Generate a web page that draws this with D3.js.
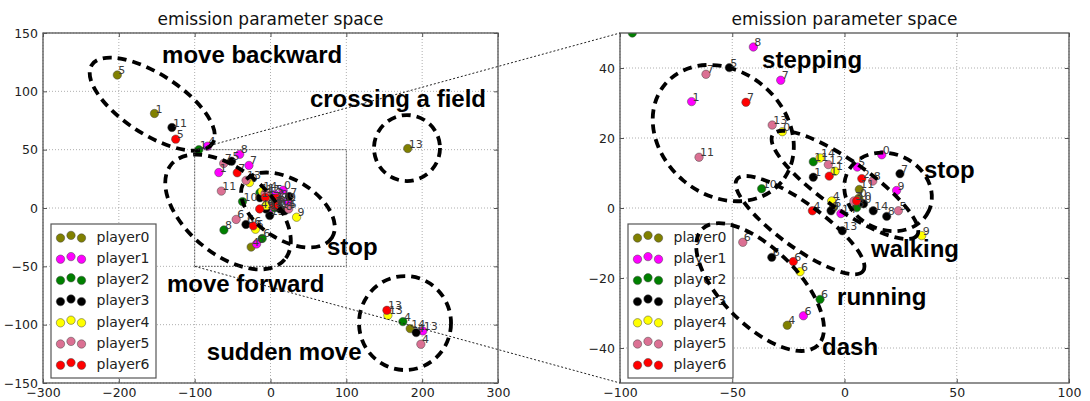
<!DOCTYPE html>
<html>
<head>
<meta charset="utf-8">
<script src="https://cdn.jsdelivr.net/npm/d3@7/dist/d3.min.js"></script>
<style>
  body { margin: 0; background: #fff; }
  svg { display: block; font-family: "DejaVu Sans", sans-serif; }
</style>
</head>
<body>
<svg id="chart" width="1090" height="401"></svg>
<script>
// emission points per player: [x, y, state]
const playerNames = ['player0', 'player1', 'player2', 'player3', 'player4', 'player5', 'player6'];
const playerColors = ['#808000', '#ff00ff', '#008000', '#000000', '#ffff00', '#db7093', '#ff0000'];

const player0 = [[-202, 114, 5], [-153, 81, 1], [181, 51, 13], [184.2, -103.4, 14], [-25.5, -33.5, 4],
  [6.6, 5.3, 11], [-5, 0.1, 6], [6.4, 2.8, 0]];
const player1 = [[-83, 53, 4], [-40.6, 46, 8], [-28.4, 36.5, 7], [-68.1, 30.4, 1], [5.7, 11.7, 5],
  [16.6, 15.2, 0], [23.2, 5.0, 9], [-1.6, -1.6, 14], [-18.3, -30.8, 6], [200.9, -105.4, 13]];
const player2 = [[-94.5, 50, 1], [-13.9, 13.2, 11], [-36.9, 5.5, 10], [-61.4, -18.8, 8], [-10.9, -26.1, 6],
  [5.4, 0.1, 3], [174.6, -97.4, 4]];
const player3 = [[-130, 69, 11], [-51.3, 40.1, 5], [-13.9, 8.8, 1], [24.7, 9.8, 7], [12.8, -0.8, 14],
  [18.8, -2.4, 8], [-1.0, -6.5, 13], [-32.4, -14.1, 6], [192.1, -106.8, 4], [-6, -0.8, 9], [8.5, 1.2, 0]];
const player4 = [[-27.7, 21.8, 0], [-10.9, 14.3, 14], [-4.2, 10.5, 1], [-5.7, 2.0, 4], [34.4, -7.9, 9],
  [-19.8, -18.2, 6], [154.8, -92, 13]];
const player5 = [[-61.7, 38.2, 7], [-32.2, 23.7, 13], [-64.8, 14.5, 11], [-7.2, 12.4, 12], [12.6, 7.7, 8],
  [24, -0.8, 5], [4.2, 2.0, 3], [-45.3, -9.8, 6], [198.3, -116.8, 4]];
const player6 = [[-125, 59, 5], [-43.9, 30.2, 7], [-6.8, 9.1, 1], [7.7, 8.4, 2], [5.4, 2.0, 10],
  [-14.3, -0.8, 4], [-22.8, -15.3, 6], [153.5, -87.7, 13]];

const playerPoints = [player0, player1, player2, player3, player4, player5, player6];

const leftXTicks = [-300, -200, -100, 0, 100, 200, 300];
const leftYTicks = [-150, -100, -50, 0, 50, 100, 150];
const rightXTicks = [-100, -50, 0, 50, 100];
const rightYTicks = [-40, -20, 0, 20, 40];

const title = 'emission parameter space';

// hand drawn groupings: centre in data units, radii in px, rotation in degrees
const leftGroups = [
  { cx: -156, cy: 89, rx: 72, ry: 30, rot: 33 },
  { cx: -56, cy: -3.4, rx: 74, ry: 42, rot: 40 },
  { cx: 23, cy: -1.7, rx: 52, ry: 30, rot: 32 },
  { cx: 180, cy: 51.4, rx: 33, ry: 33, rot: 0 },
  { cx: 177.4, cy: -98.6, rx: 46, ry: 47, rot: 0 }
];
const rightGroups = [
  { cx: -54, cy: 21.4, rx: 76, ry: 62, rot: 40 },
  { cx: 0.2, cy: 6.6, rx: 88, ry: 24, rot: 35 },
  { cx: 19.4, cy: 4.6, rx: 45, ry: 38, rot: 25 },
  { cx: -19.8, cy: -4.9, rx: 78, ry: 22, rot: 36 },
  { cx: -37.6, cy: -22.6, rx: 82, ry: 38, rot: 45 }
];
const leftNotes = [
  { text: 'move backward', x: -143, y: 124 },
  { text: 'crossing a field', x: 52, y: 87 },
  { text: 'stop', x: 74.5, y: -40 },
  { text: 'move forward', x: -136.5, y: -72 },
  { text: 'sudden move', x: -84, y: -130 }
];
const rightNotes = [
  { text: 'stepping', x: -36.7, y: 40 },
  { text: 'stop', x: 35.4, y: 8.6 },
  { text: 'walking', x: 11.8, y: -14 },
  { text: 'running', x: -3.3, y: -27.7 },
  { text: 'dash', x: -10, y: -42 }
];

const svg = d3.select('#chart');
const fmt = (d) => String(d).replace('-', '\u2212');

function drawPanel(id, cfg) {
  const x = d3.scaleLinear().domain(cfg.xDomain).range([cfg.left, cfg.right]);
  const y = d3.scaleLinear().domain(cfg.yDomain).range([cfg.bottom, cfg.top]);
  const g = svg.append('g');

  // only the points that fall inside this panel's view
  const inView = (d) => d[0] >= cfg.xDomain[0] - 1.5 && d[0] <= cfg.xDomain[1] + 1.5 &&
    d[1] >= cfg.yDomain[0] - 1.5 && d[1] <= cfg.yDomain[1] + 1.5;
  const visible = playerPoints.map((series) => series.filter(inView));

  svg.append('clipPath').attr('id', id)
    .append('rect')
    .attr('x', cfg.left).attr('y', cfg.top)
    .attr('width', cfg.right - cfg.left).attr('height', cfg.bottom - cfg.top);

  // grid
  g.selectAll('.gx').data(cfg.xTicks).enter().append('line')
    .attr('x1', (d) => x(d)).attr('x2', (d) => x(d))
    .attr('y1', cfg.top).attr('y2', cfg.bottom)
    .attr('stroke', '#9a9a9a').attr('stroke-width', 0.8).attr('stroke-dasharray', '1,2');
  g.selectAll('.gy').data(cfg.yTicks).enter().append('line')
    .attr('x1', cfg.left).attr('x2', cfg.right)
    .attr('y1', (d) => y(d)).attr('y2', (d) => y(d))
    .attr('stroke', '#9a9a9a').attr('stroke-width', 0.8).attr('stroke-dasharray', '1,2');

  // axes, ticks pointing inward; top/right carry ticks only
  const axes = [
    [d3.axisBottom(x).tickValues(cfg.xTicks).tickFormat(fmt), `translate(0,${cfg.bottom})`, true],
    [d3.axisTop(x).tickValues(cfg.xTicks), `translate(0,${cfg.top})`, false],
    [d3.axisLeft(y).tickValues(cfg.yTicks).tickFormat(fmt), `translate(${cfg.left},0)`, true],
    [d3.axisRight(y).tickValues(cfg.yTicks), `translate(${cfg.right},0)`, false]
  ];
  axes.forEach(([axis, tr, labelled]) => {
    const a = g.append('g').attr('transform', tr)
      .call(axis.tickSize(-4).tickPadding(5));
    a.select('.domain').remove();
    a.selectAll('line').attr('stroke', '#555');
    if (!labelled) {
      a.selectAll('text').remove();
      return;
    }
    a.selectAll('text').attr('fill', '#222').style('font-size', '12.5px')
      .style('font-family', '"DejaVu Sans", sans-serif');
  });

  // points
  const pts = g.append('g').attr('clip-path', `url(#${id})`);
  visible.forEach((series, i) => {
    pts.selectAll(null).data(series).enter().append('circle')
      .attr('cx', (d) => x(d[0])).attr('cy', (d) => y(d[1]))
      .attr('r', 4.2)
      .attr('fill', playerColors[i])
      .attr('stroke', '#444').attr('stroke-width', 0.5);
  });
  visible.forEach((series) => {
    pts.selectAll(null).data(series).enter().append('text')
      .attr('x', (d) => x(d[0]) + 1).attr('y', (d) => y(d[1]) - 1)
      .attr('fill', '#3a3a3a').style('font-size', '11px')
      .text((d) => d[2]);
  });

  // frame
  g.append('rect')
    .attr('x', cfg.left).attr('y', cfg.top)
    .attr('width', cfg.right - cfg.left).attr('height', cfg.bottom - cfg.top)
    .attr('fill', 'none').attr('stroke', '#555').attr('stroke-width', 1.3);

  // title
  g.append('text')
    .attr('x', (cfg.left + cfg.right) / 2).attr('y', 25)
    .attr('text-anchor', 'middle').attr('fill', '#111')
    .style('font-size', '17px')
    .text(title);

  // legend
  const lg = g.append('g').attr('transform', `translate(${cfg.legendX},${cfg.legendY})`);
  lg.append('rect').attr('width', 105).attr('height', 154)
    .attr('fill', '#fff').attr('stroke', '#555').attr('stroke-width', 1.2);
  playerNames.forEach((name, i) => {
    const row = lg.append('g').attr('transform', `translate(0,${12.7 + i * 21.2})`);
    [[9.5, 1.3], [20, -1.3], [30.5, 1.3]].forEach(([dx, dy]) => {
      row.append('circle').attr('cx', dx).attr('cy', dy).attr('r', 4.2)
        .attr('fill', playerColors[i]).attr('stroke', '#444').attr('stroke-width', 0.5);
    });
    row.append('text').attr('x', 45.5).attr('y', 5)
      .attr('fill', '#222').style('font-size', '14px').text(name);
  });

  // hand drawn groups
  g.selectAll(null).data(cfg.groups).enter().append('ellipse')
    .attr('transform', (d) => `translate(${x(d.cx)},${y(d.cy)}) rotate(${d.rot})`)
    .attr('rx', (d) => d.rx).attr('ry', (d) => d.ry)
    .attr('fill', 'none').attr('stroke', '#000')
    .attr('stroke-width', 3.8).attr('stroke-dasharray', '9,6');

  g.selectAll(null).data(cfg.notes).enter().append('text')
    .attr('x', (d) => x(d.x)).attr('y', (d) => y(d.y))
    .attr('fill', '#000')
    .style('font-family', '"Liberation Sans", Arial, sans-serif')
    .style('font-weight', 'bold').style('font-size', '24px')
    .text((d) => d.text);

  return { x, y, g };
}

const left = drawPanel('clipL', {
  xDomain: [-300, 300], yDomain: [-150, 150],
  left: 43, right: 498, top: 33, bottom: 383,
  xTicks: leftXTicks, yTicks: leftYTicks,
  legendX: 51, legendY: 224,
  groups: leftGroups, notes: leftNotes
});
const right = drawPanel('clipR', {
  xDomain: [-100, 100], yDomain: [-50, 50],
  left: 620, right: 1069, top: 33, bottom: 383,
  xTicks: rightXTicks, yTicks: rightYTicks,
  legendX: 628, legendY: 224,
  groups: rightGroups, notes: rightNotes
});

// zoom window and connectors
const zx = right.x.domain();
const zy = right.y.domain();
svg.append('rect')
  .attr('x', left.x(zx[0])).attr('y', left.y(zy[1]))
  .attr('width', left.x(zx[1]) - left.x(zx[0]))
  .attr('height', left.y(zy[0]) - left.y(zy[1]))
  .attr('fill', 'none').attr('stroke', '#333').attr('stroke-width', 0.8)
  .attr('stroke-dasharray', '1.5,1.5');
[zy[1], zy[0]].forEach((v) => {
  svg.append('line')
    .attr('x1', left.x(zx[0])).attr('y1', left.y(v))
    .attr('x2', right.x(zx[0])).attr('y2', right.y(v))
    .attr('stroke', '#222').attr('stroke-width', 1)
    .attr('stroke-dasharray', '2,2');
});
</script>
</body>
</html>
